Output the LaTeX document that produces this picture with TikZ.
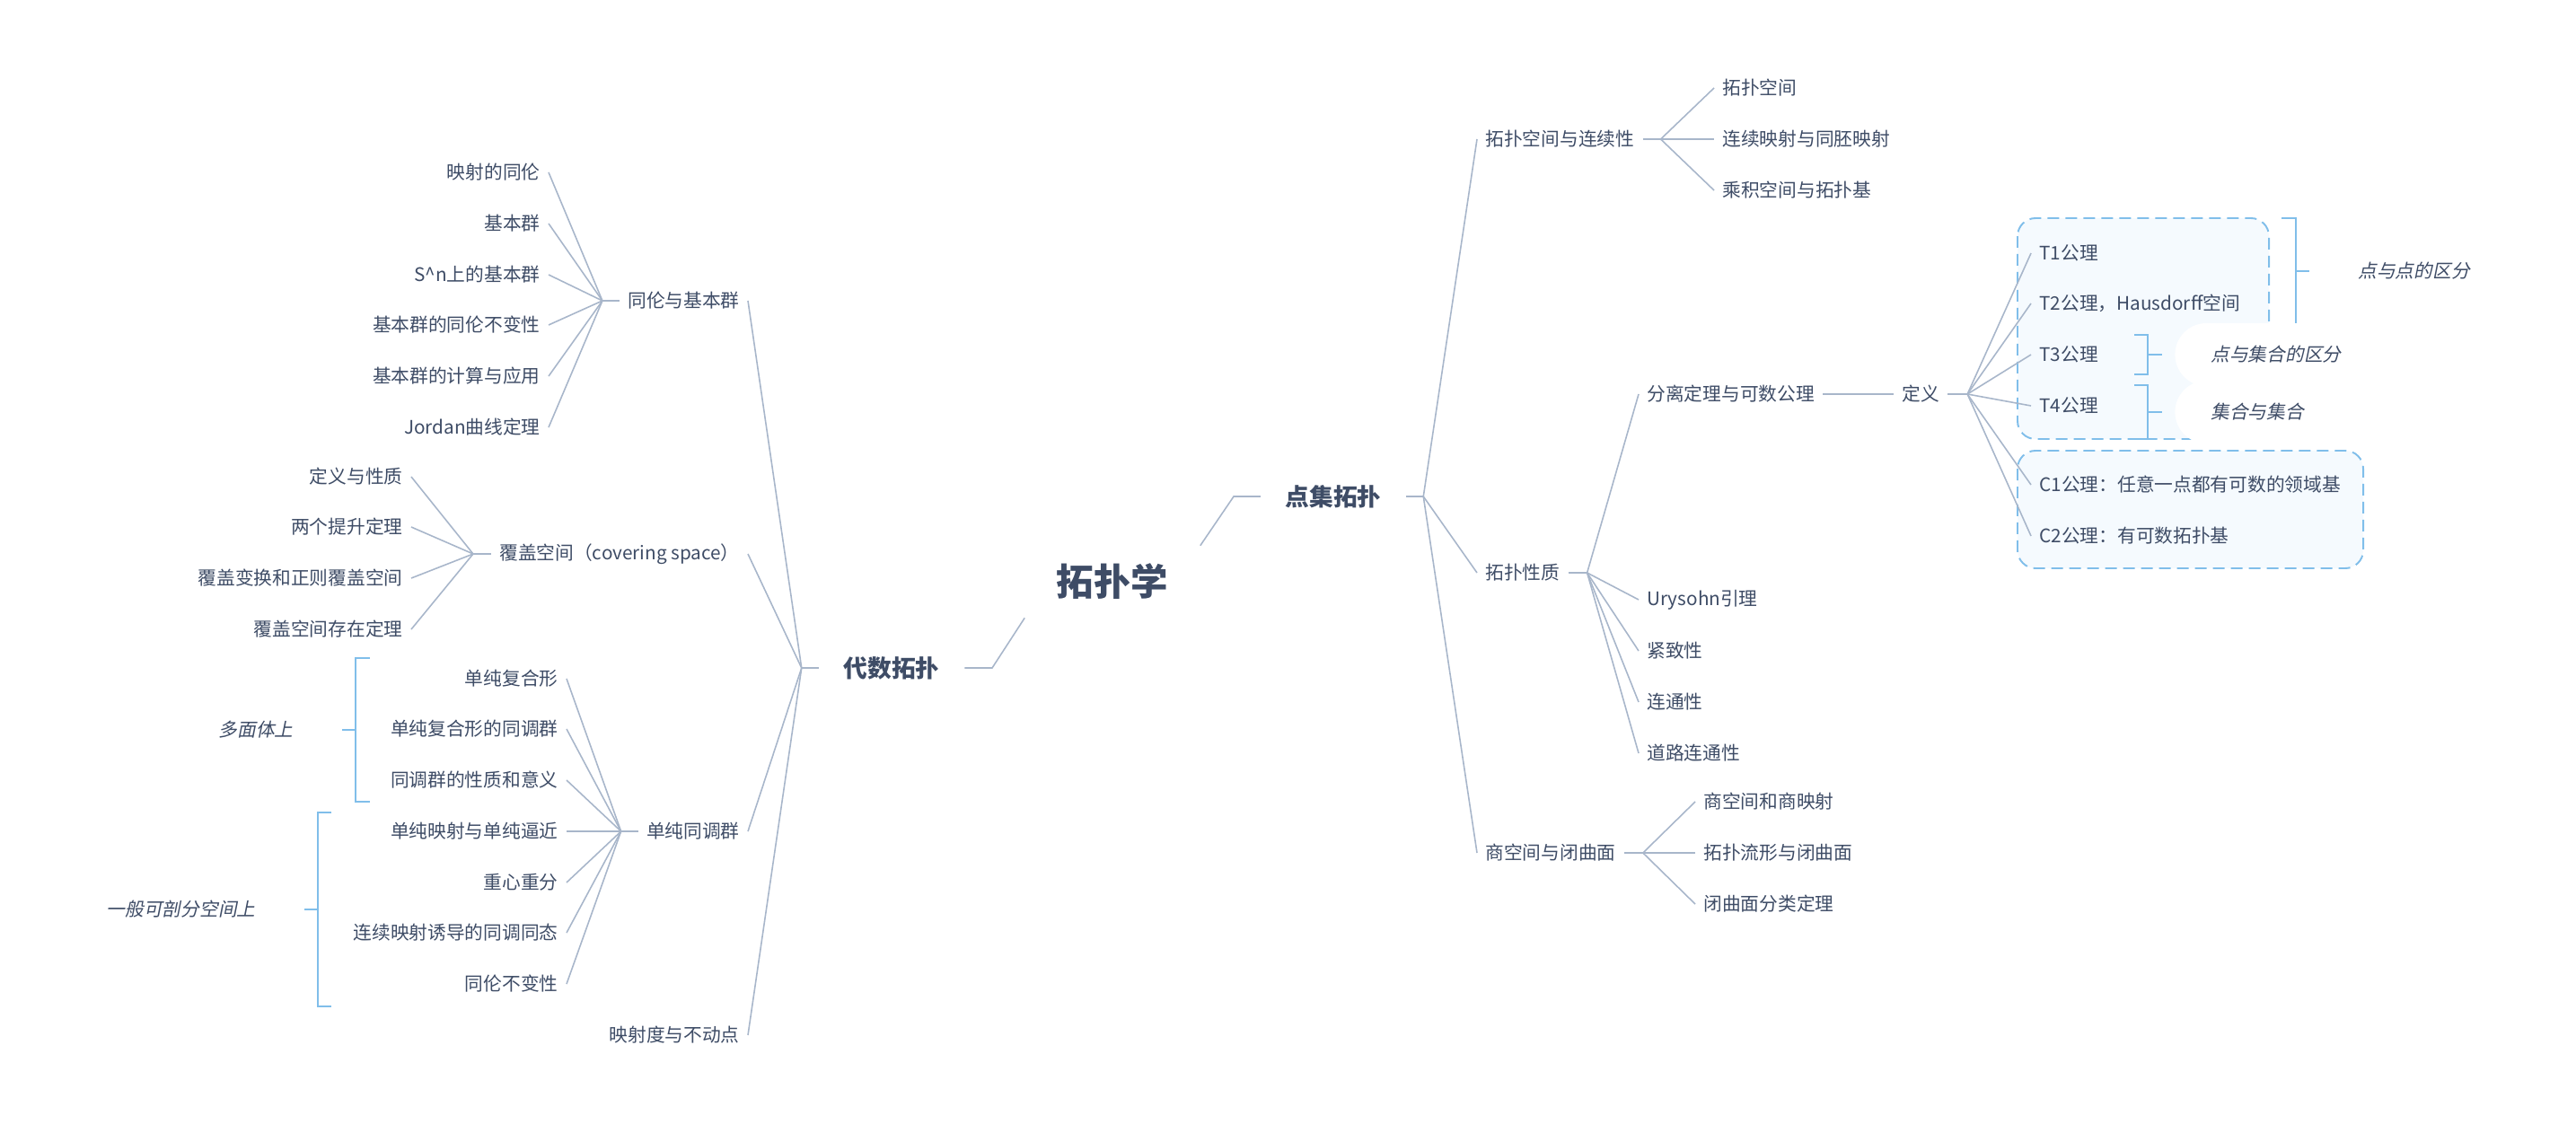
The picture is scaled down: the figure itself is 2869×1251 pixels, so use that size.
\documentclass[tikz,border=0pt]{standalone}
\usepackage{fontspec}
\setmainfont{Noto Sans CJK SC}[ItalicFont={Noto Sans CJK SC},ItalicFeatures={FakeSlant=0.2}]
\definecolor{ink}{HTML}{3E4C66}
\definecolor{wire}{HTML}{A8B6CA}
\definecolor{sky}{HTML}{80BEEA}
\definecolor{mist}{HTML}{F5FAFE}
\tikzset{
    leaf/.style={text=ink,font=\fontsize{11.8}{14}\selectfont,inner xsep=0.18cm,inner ysep=0.1cm},
    mainnode/.style={text=ink,font=\fontsize{15.2}{18}\selectfont\bfseries,inner xsep=0.55cm},
    rootnode/.style={text=ink,font=\fontsize{23.6}{28}\selectfont\bfseries,minimum width=3.9cm,minimum height=1.6cm,inner sep=0pt},
    link/.style={draw=wire,line width=0.9pt},
    brace/.style={draw=sky,line width=1.1pt},
    group/.style={draw=sky,fill=mist,line width=1.1pt,dash pattern=on 0.26cm off 0.14cm,rounded corners=0.4cm},
    remark/.style={text=ink,font=\fontsize{11.8}{14}\selectfont\itshape,fill=white,rounded corners=0.7cm,minimum height=1.4cm,inner xsep=0.8cm}
}
\begin{document}
\begin{tikzpicture}[x=0.02cm,y=-0.02cm]
    \useasboundingbox (0,0) rectangle (2869,1251);
    \draw[group] (2247,243) rectangle (2527,489);
    \draw[group] (2247,502) rectangle (2632,633);
    % centre
    \node[rootnode] (root) at (1239,648){拓扑学};
    \node[mainnode] (djtp) at (1485,553){点集拓扑};
    \node[mainnode] (dstp) at (993,744){代数拓扑};
    \coordinate (e1) at (1374,553);
    \coordinate (e2) at (1105,744);
    \draw[link] (root.north east) -- (e1) -- (djtp.west);
    \draw[link] (root.south west) -- (e2) -- (dstp.east);
    \path (djtp.east) ++(19,0) coordinate (djb);
    \path (dstp.west) ++(-19,0) coordinate (dsb);
    \draw[link] (djtp.east) -- (djb);
    \draw[link] (dstp.west) -- (dsb);
    % 点集拓扑
    \node[leaf,anchor=west] (tkkj) at (1645,155){拓扑空间与连续性};
    \node[leaf,anchor=west] (tkxz) at (1645,638){拓扑性质};
    \node[leaf,anchor=west] (sjkj) at (1645,950){商空间与闭曲面};
    \foreach \n in {tkkj,tkxz,sjkj} \draw[link] (djb) -- (\n.west);
    \node[leaf,anchor=west] (tk1) at (1909,98){拓扑空间};
    \node[leaf,anchor=west] (tk2) at (1909,155){连续映射与同胚映射};
    \node[leaf,anchor=west] (tk3) at (1909,212){乘积空间与拓扑基};
    \path (tkkj.east) ++(20,0) coordinate (tkb);
    \draw[link] (tkkj.east) -- (tkb);
    \foreach \n in {tk1,tk2,tk3} \draw[link] (tkb) -- (\n.west);
    \node[leaf,anchor=west] (fl) at (1825,439){分离定理与可数公理};
    \node[leaf,anchor=west] (xz1) at (1825,668){Urysohn引理};
    \node[leaf,anchor=west] (xz2) at (1825,725){紧致性};
    \node[leaf,anchor=west] (xz3) at (1825,782){连通性};
    \node[leaf,anchor=west] (xz4) at (1825,839){道路连通性};
    \path (tkxz.east) ++(21,0) coordinate (xzb);
    \draw[link] (tkxz.east) -- (xzb);
    \foreach \n in {fl,xz1,xz2,xz3,xz4} \draw[link] (xzb) -- (\n.west);
    \node[leaf,anchor=west] (dy) at (2109,439){定义};
    \draw[link] (fl.east) -- (dy.west);
    \node[leaf,anchor=west] (ax1) at (2262,282){T1公理};
    \node[leaf,anchor=west] (ax2) at (2262,338){T2公理，Hausdorff空间};
    \node[leaf,anchor=west] (ax3) at (2262,395){T3公理};
    \node[leaf,anchor=west] (ax4) at (2262,452){T4公理};
    \node[leaf,anchor=west] (ax5) at (2262,540){C1公理：任意一点都有可数的领域基};
    \node[leaf,anchor=west] (ax6) at (2262,597){C2公理：有可数拓扑基};
    \path (dy.east) ++(22,0) coordinate (dyb);
    \draw[link] (dy.east) -- (dyb);
    \foreach \n in {ax1,ax2,ax3,ax4,ax5,ax6} \draw[link] (dyb) -- (\n.west);
    \node[leaf,anchor=west] (sj1) at (1888,893){商空间和商映射};
    \node[leaf,anchor=west] (sj2) at (1888,950){拓扑流形与闭曲面};
    \node[leaf,anchor=west] (sj3) at (1888,1007){闭曲面分类定理};
    \path (sjkj.east) ++(21,0) coordinate (sjb);
    \draw[link] (sjkj.east) -- (sjb);
    \foreach \n in {sj1,sj2,sj3} \draw[link] (sjb) -- (\n.west);
    % 分离公理的注释
    \draw[brace] (2541,243) -- (2557,243) -- (2557,361) -- (2541,361);
    \draw[brace] (2557,302) -- (2572,302);
    \draw[brace] (2377,373) -- (2392,373) -- (2392,417) -- (2377,417);
    \draw[brace] (2392,395) -- (2408,395);
    \draw[brace] (2377,429) -- (2392,429) -- (2392,489) -- (2377,489);
    \draw[brace] (2392,459) -- (2408,459);
    \node[remark,anchor=west] (dd) at (2586,302){点与点的区分};
    \node[remark,anchor=west] (dj) at (2422,395){点与集合的区分};
    \node[remark,anchor=west] (jj) at (2422,459){集合与集合};
    % 代数拓扑
    \node[leaf,anchor=east] (thjb) at (833,335){同伦与基本群};
    \node[leaf,anchor=east] (fgkj) at (833,617){覆盖空间（covering space）};
    \node[leaf,anchor=east] (dctd) at (833,926){单纯同调群};
    \node[leaf,anchor=east] (ysd) at (833,1153){映射度与不动点};
    \foreach \n in {thjb,fgkj,dctd,ysd} \draw[link] (dsb) -- (\n.east);
    \node[leaf,anchor=east] (th1) at (611,192){映射的同伦};
    \node[leaf,anchor=east] (th2) at (611,249){基本群};
    \node[leaf,anchor=east] (th3) at (611,306){S\textasciicircum n上的基本群};
    \node[leaf,anchor=east] (th4) at (611,362){基本群的同伦不变性};
    \node[leaf,anchor=east] (th5) at (611,419){基本群的计算与应用};
    \node[leaf,anchor=east] (th6) at (611,476){Jordan曲线定理};
    \path (thjb.west) ++(-19,0) coordinate (thb);
    \draw[link] (thjb.west) -- (thb);
    \foreach \n in {th1,th2,th3,th4,th5,th6} \draw[link] (thb) -- (\n.east);
    \node[leaf,anchor=east] (fg1) at (458,531){定义与性质};
    \node[leaf,anchor=east] (fg2) at (458,587){两个提升定理};
    \node[leaf,anchor=east] (fg3) at (458,644){覆盖变换和正则覆盖空间};
    \node[leaf,anchor=east] (fg4) at (458,701){覆盖空间存在定理};
    \path (fgkj.west) ++(-20,0) coordinate (fgb);
    \draw[link] (fgkj.west) -- (fgb);
    \foreach \n in {fg1,fg2,fg3,fg4} \draw[link] (fgb) -- (\n.east);
    \node[leaf,anchor=east] (dc1) at (631,756){单纯复合形};
    \node[leaf,anchor=east] (dc2) at (631,812){单纯复合形的同调群};
    \node[leaf,anchor=east] (dc3) at (631,869){同调群的性质和意义};
    \node[leaf,anchor=east] (dc4) at (631,926){单纯映射与单纯逼近};
    \node[leaf,anchor=east] (dc5) at (631,983){重心重分};
    \node[leaf,anchor=east] (dc6) at (631,1039){连续映射诱导的同调同态};
    \node[leaf,anchor=east] (dc7) at (631,1096){同伦不变性};
    \path (dctd.west) ++(-19,0) coordinate (dcb);
    \draw[link] (dctd.west) -- (dcb);
    \foreach \n in {dc1,dc2,dc3,dc4,dc5,dc6,dc7} \draw[link] (dcb) -- (\n.east);
    % 左侧注释
    \draw[brace] (412,733) -- (396,733) -- (396,893) -- (412,893);
    \draw[brace] (396,813) -- (381,813);
    \draw[brace] (369,905) -- (354,905) -- (354,1121) -- (369,1121);
    \draw[brace] (354,1013) -- (339,1013);
    \node[remark,anchor=east] (dmt) at (367,813){多面体上};
    \node[remark,anchor=east] (kpf) at (325,1013){一般可剖分空间上};
\end{tikzpicture}
\end{document}
